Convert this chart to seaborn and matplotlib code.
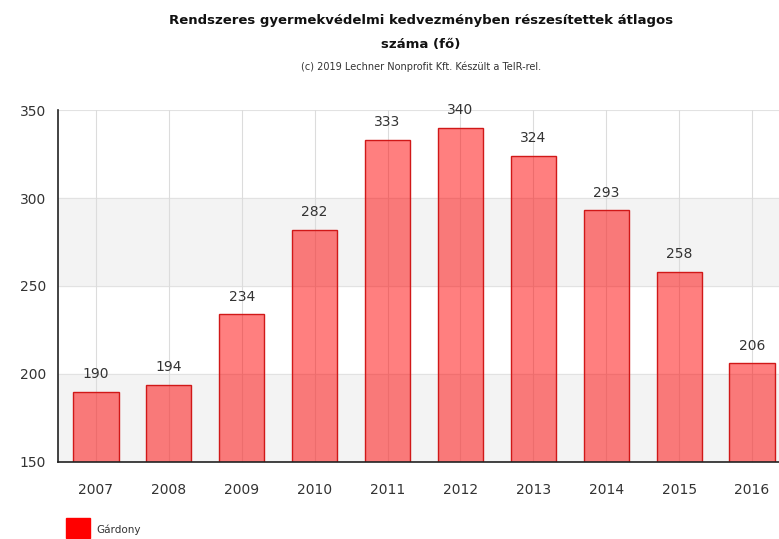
import pandas as pd
import matplotlib.pyplot as plt
import seaborn as sns

years = ['2007', '2008', '2009', '2010', '2011', '2012', '2013', '2014', '2015', '2016']
values = [190, 194, 234, 282, 333, 340, 324, 293, 258, 206]
series_name = 'Gárdony'

df = pd.DataFrame({'Év': years, 'Fő': values})

sns.set_style('white')
plt.rcParams['font.family'] = ['DejaVu Sans']

fig = plt.figure(figsize=(7.79, 5.39), dpi=100)
ax = fig.add_axes([0.0745, 0.1429, 0.9255, 0.6530])

# sávos háttér
for lo, hi in [(150, 200), (250, 300)]:
    ax.axhspan(lo, hi, color='#f3f3f3', zorder=0)
for y in [200, 250, 300, 350]:
    ax.axhline(y, color='#e2e2e2', lw=0.8, zorder=0.5)
for i in range(len(years)):
    ax.axvline(i, color='#dcdcdc', lw=0.8, zorder=0.5)

sns.barplot(data=df, x='Év', y='Fő', ax=ax, color='#ff0000', width=0.62,
            edgecolor='#d01818', linewidth=1.0, saturation=1, zorder=2)
for bar in ax.containers[0]:
    bar.set_facecolor((1.0, 0.0, 0.0, 0.5))

for i, v in enumerate(values):
    ax.text(i, v + 6, str(v), ha='center', va='bottom', fontsize=10, color='#333333')

ax.set_ylim(150, 350)
ax.set_xlim(-0.52, 9.37)
ax.set_yticks([150, 200, 250, 300, 350])
ax.set_xlabel('')
ax.set_ylabel('')
ax.tick_params(axis='both', labelsize=10, colors='#333333', length=5, direction='out')
ax.tick_params(axis='x', pad=10)
for s in ['top', 'right']:
    ax.spines[s].set_visible(False)
for s in ['left', 'bottom']:
    ax.spines[s].set_color('#222222')
    ax.spines[s].set_linewidth(1.2)

fig.text(0.54, 0.962, 'Rendszeres gyermekvédelmi kedvezményben részesítettek átlagos',
         ha='center', va='center', fontsize=9.5, fontweight='bold', color='#111111')
fig.text(0.54, 0.918, 'száma (fő)', ha='center', va='center', fontsize=9.5,
         fontweight='bold', color='#111111')
fig.text(0.54, 0.876, '(c) 2019 Lechner Nonprofit Kft. Készült a TeIR-rel.',
         ha='center', va='center', fontsize=7, color='#333333')

# jelmagyarázat
fig.patches.append(plt.Rectangle((66 / 779, 1 - 538 / 539), 24 / 779, 20 / 539,
                                 transform=fig.transFigure, color='#ff0000'))
fig.text(96 / 779, 1 - 530 / 539, series_name, ha='left', va='center', fontsize=7.5,
         color='#333333')

fig.savefig('out.png', dpi=100)
